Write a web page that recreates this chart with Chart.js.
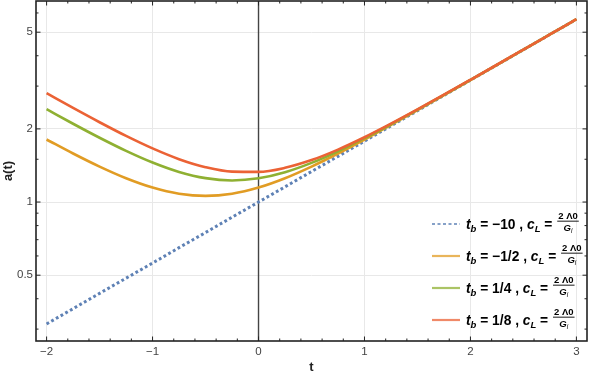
<!DOCTYPE html>
<html>
<head>
<meta charset="utf-8">
<script src="https://cdn.jsdelivr.net/npm/chart.js@4/dist/chart.umd.min.js"></script>
<style>
  body { margin: 0; background: #fff; }
  canvas { display: block; }
</style>
</head>
<body>
<canvas id="c" width="590" height="377"></canvas>
<script>
// valores (t e a(t))
const tValues = [-2, -1.75, -1.5, -1.25, -1, -0.75, -0.5, -0.25, 0, 0.25, 0.5,
                 0.75, 1, 1.25, 1.5, 1.75, 2, 2.25, 2.5, 2.75, 3]
const aMinus10 = [0.315, 0.364, 0.421, 0.486, 0.561, 0.649, 0.749, 0.866, 1.000, 1.155, 1.335,
                  1.542, 1.781, 2.058, 2.377, 2.747, 3.173, 3.666, 4.235, 4.892, 5.652]
const aMinusHalf = [1.809, 1.584, 1.399, 1.253, 1.147, 1.082, 1.060, 1.082, 1.147, 1.253, 1.399,
                    1.584, 1.809, 2.076, 2.389, 2.754, 3.178, 3.669, 4.237, 4.894, 5.653]
const aQuarter = [2.410, 2.100, 1.839, 1.624, 1.454, 1.330, 1.254, 1.227, 1.252, 1.326, 1.449,
                  1.617, 1.831, 2.090, 2.399, 2.760, 3.182, 3.671, 4.239, 4.895, 5.654]
const aEighth = [2.804, 2.439, 2.130, 1.871, 1.662, 1.501, 1.391, 1.334, 1.331, 1.383, 1.488,
                 1.644, 1.848, 2.102, 2.406, 2.765, 3.185, 3.673, 4.240, 4.896, 5.654]

const tbLabels = ['−10', '−1/2', '1/4', '1/8']
const xTicks = [-2, -1, 0, 1, 2, 3]
const yTicks = [0.5, 1, 2, 5]
const yMinorTicks = [0.3, 0.4, 0.6, 0.7, 0.8, 0.9, 1.5, 3, 4, 6]

const colors = ['#5E81B5', '#E19C24', '#8FB032', '#EB6235']
const legendColors = ['rgba(94,129,181,0.75)', 'rgba(225,156,36,0.75)', 'rgba(143,176,50,0.75)', 'rgba(235,98,53,0.75)']
const FONT = '"Liberation Sans", Arial, sans-serif'

const toXY = (arr) => tValues.map((t, i) => ({ x: t, y: arr[i] }))
const series = [aMinus10, aMinusHalf, aQuarter, aEighth]

// moldura com ticks internos, eixo vertical em t=0 e legenda
const framePlugin = {
  id: 'frame',
  beforeDatasetsDraw(chart) {
    const { ctx, chartArea: a, scales: { x } } = chart
    const px = x.getPixelForValue(0)
    ctx.save()
    ctx.strokeStyle = '#444'
    ctx.lineWidth = 1.4
    ctx.beginPath()
    ctx.moveTo(px, a.top)
    ctx.lineTo(px, a.bottom)
    ctx.stroke()
    ctx.restore()
  },
  afterDatasetsDraw(chart) {
    const { ctx, chartArea: a, scales: { x, y } } = chart
    ctx.save()
    ctx.strokeStyle = '#222'
    ctx.lineWidth = 1
    ctx.beginPath()
    for (let i = -21; i <= 31; i++) {
      const v = i / 10
      if (i % 2 !== 0) continue
      const px = x.getPixelForValue(v)
      if (px < a.left || px > a.right) continue
      const len = (i % 10 === 0) ? 4.5 : 2.5
      ctx.moveTo(px, a.bottom); ctx.lineTo(px, a.bottom - len)
      ctx.moveTo(px, a.top); ctx.lineTo(px, a.top + len)
    }
    yTicks.forEach(v => {
      const py = y.getPixelForValue(v)
      ctx.moveTo(a.left, py); ctx.lineTo(a.left + 4.5, py)
      ctx.moveTo(a.right, py); ctx.lineTo(a.right - 4.5, py)
    })
    yMinorTicks.forEach(v => {
      const py = y.getPixelForValue(v)
      ctx.moveTo(a.left, py); ctx.lineTo(a.left + 2.5, py)
      ctx.moveTo(a.right, py); ctx.lineTo(a.right - 2.5, py)
    })
    ctx.stroke()
    ctx.lineWidth = 1.6
    ctx.strokeRect(a.left, a.top, a.right - a.left, a.bottom - a.top)
    ctx.restore()
  },
  afterDraw(chart) {
    const ctx = chart.ctx
    ctx.save()
    ctx.textBaseline = 'alphabetic'
    ctx.textAlign = 'left'
    tbLabels.forEach((tb, i) => {
      const yy = 224 + 32 * i
      // amostra da linha
      ctx.strokeStyle = legendColors[i]
      ctx.lineWidth = 2.2
      ctx.setLineDash(i === 0 ? [3, 2.5] : [])
      ctx.beginPath()
      ctx.moveTo(432, yy)
      ctx.lineTo(460, yy)
      ctx.stroke()
      ctx.setLineDash([])

      ctx.fillStyle = '#000'
      let cx = 466
      const base = yy + 4.8
      const put = (txt, font, dy) => {
        ctx.font = font
        ctx.fillText(txt, cx, base + dy)
        cx += ctx.measureText(txt).width
      }
      put('t', 'italic bold 13.8px ' + FONT, 0)
      put('b', 'italic bold 9.5px ' + FONT, 3.5)
      put(' = ' + tb + ' , ', 'bold 13.8px ' + FONT, 0)
      put('c', 'italic bold 13.8px ' + FONT, 0)
      put('L', 'italic bold 9.5px ' + FONT, 3.5)
      put(' = ', 'bold 13.8px ' + FONT, 0)

      // fração 2Λ0 / G_i
      ctx.font = 'bold 9.5px ' + FONT
      const num = '2 Λ0'
      const wNum = ctx.measureText(num).width
      ctx.font = 'italic bold 9.5px ' + FONT
      const wG = ctx.measureText('G').width
      ctx.font = 'italic 6.5px ' + FONT
      const wi = ctx.measureText('i').width
      const w = Math.max(wNum, wG + wi) + 2
      const fx = cx + 1
      ctx.fillRect(fx, yy - 3.3, w, 0.9)
      ctx.font = 'bold 9.5px ' + FONT
      ctx.fillText(num, fx + (w - wNum) / 2, yy - 5)
      const gx = fx + (w - wG - wi) / 2
      ctx.font = 'italic bold 9.5px ' + FONT
      ctx.fillText('G', gx, yy + 7)
      ctx.font = 'italic 6.5px ' + FONT
      ctx.fillText('i', gx + wG, yy + 9)
    })
    ctx.restore()
  }
}

new Chart(document.getElementById('c'), {
  type: 'line',
  data: {
    datasets: series.map((arr, i) => ({
      label: 'tb = ' + tbLabels[i],
      data: toXY(arr),
      borderColor: colors[i],
      borderWidth: i === 0 ? 3 : 2.6,
      borderDash: i === 0 ? [2.8, 2.6] : [],
      borderCapStyle: 'butt',
      pointRadius: 0,
      cubicInterpolationMode: 'monotone',
      fill: false,
      order: 3 - i
    }))
  },
  options: {
    responsive: false,
    animation: false,
    layout: { padding: { top: 1, right: 3, left: 0, bottom: 0 } },
    plugins: {
      legend: { display: false },
      tooltip: { enabled: false }
    },
    scales: {
      x: {
        type: 'linear',
        min: -2.1,
        max: 3.1,
        afterFit: (s) => { s.height = 36; s.paddingLeft = 0; s.paddingRight = 0 },
        afterBuildTicks: (s) => { s.ticks = xTicks.map(v => ({ value: v })) },
        ticks: {
          padding: 4,
          color: '#444',
          font: { family: FONT, size: 11.5 },
          callback: (v) => v < 0 ? '−' + Math.abs(v) : String(v)
        },
        grid: { color: '#e8e8e8', lineWidth: 1, drawTicks: false },
        border: { display: false },
        title: {
          display: true,
          text: 't',
          color: '#222',
          padding: { top: 0, bottom: 2.2 },
          font: { family: FONT, size: 13, weight: 'bold' }
        }
      },
      y: {
        type: 'logarithmic',
        min: 0.268,
        max: 6.72,
        afterFit: (s) => { s.width = 36; s.paddingTop = 0; s.paddingBottom = 0 },
        afterBuildTicks: (s) => { s.ticks = yTicks.map(v => ({ value: v })) },
        ticks: {
          padding: 3,
          color: '#444',
          font: { family: FONT, size: 11.5 },
          callback: (v) => String(v)
        },
        grid: { color: '#e8e8e8', lineWidth: 1, drawTicks: false },
        border: { display: false },
        title: {
          display: true,
          text: 'a(t)',
          color: '#222',
          padding: { top: 0.5, bottom: 0 },
          font: { family: FONT, size: 13, weight: 'bold' }
        }
      }
    }
  },
  plugins: [framePlugin]
})
</script>
</body>
</html>
